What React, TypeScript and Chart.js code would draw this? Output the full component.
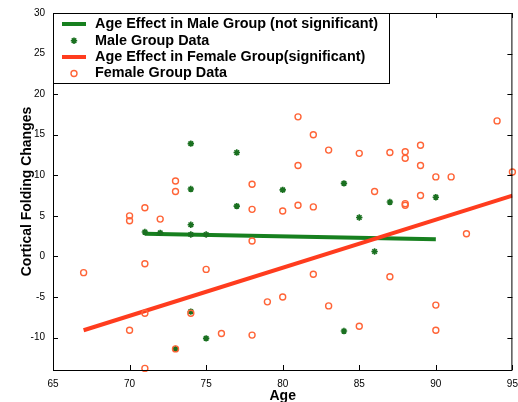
import React, { useEffect, useRef } from 'react';
import { Chart, registerables } from 'chart.js';

Chart.register(...registerables);

// Subject-level data: age (years) and change in cortical folding
const maleAge = [71, 72, 74, 75, 74, 74, 74, 77, 77, 80, 84, 85, 87, 90, 86, 74, 73, 75, 84];
const maleChange = [3.0, 2.9, 2.7, 2.7, 3.9, 8.3, 13.9, 12.8, 6.2, 8.2, 9.0, 4.8, 6.7, 7.3, 0.6, -6.8, -11.4, -10.1, -9.2];

const femaleAge = [
  67, 70, 70, 70, 71, 71, 71, 71, 72, 73, 73, 73, 74, 75, 76, 78, 78, 78, 78, 79, 80, 80, 81, 81, 81,
  82, 82, 82, 83, 83, 85, 85, 86, 87, 87, 88, 88, 88, 88, 89, 89, 89, 90, 90, 90, 91, 92, 94, 95,
];
const femaleChange = [
  -2.0, 5.0, 4.4, -9.1, 6.0, -0.9, -7.0, -13.8, 4.6, 9.3, 8.0, -11.4, -7.0, -1.6, -9.5, 8.9, 5.8, 1.9, -9.7, -5.6, 5.6, -5.0, 17.2, 11.2, 6.3,
  15.0, 6.1, -2.2, 13.1, -6.1, 12.7, -8.6, 8.0, 12.8, -2.5, 12.9, 12.1, 6.5, 6.3, 13.7, 11.2, 7.5, 9.8, -6.0, -9.1, 9.8, 2.8, 16.7, 10.4,
];

// Fitted regression lines (end points)
const maleFitAge = [71, 90];
const maleFitChange = [2.8, 2.1];
const femaleFitAge = [67, 95];
const femaleFitChange = [-9.1, 7.5];

const legendLabels = [
  'Age Effect in Male Group (not significant)',
  'Male Group Data',
  'Age Effect in Female Group(significant)',
  'Female Group Data',
];

const xTitle = 'Age';
const yTitle = 'Cortical Folding Changes';

const GREEN = '#17801f';
const STAR_GREEN = '#1a7020';
const RED = '#ff3c1e';
const ORANGE = '#ff6437';
const FONT = "'Liberation Sans', Arial, Helvetica, sans-serif";

const toPoints = (xs: number[], ys: number[]) => xs.map((x, i) => ({ x, y: ys[i] }));

// Inward tick marks on all four sides, the axes box and the legend
const boxTicksPlugin = {
  id: 'boxTicks',
  afterDatasetsDraw(chart: any) {
    const { ctx, chartArea: a, scales } = chart;
    const len = 5;
    ctx.save();
    ctx.strokeStyle = '#000';
    ctx.lineWidth = 1;
    ctx.beginPath();
    for (const t of scales.x.ticks) {
      const px = Math.round(scales.x.getPixelForValue(t.value)) + 0.5;
      ctx.moveTo(px, a.bottom);
      ctx.lineTo(px, a.bottom - len);
      ctx.moveTo(px, a.top);
      ctx.lineTo(px, a.top + len);
    }
    for (const t of scales.y.ticks) {
      const py = Math.round(scales.y.getPixelForValue(t.value)) + 0.5;
      ctx.moveTo(a.left, py);
      ctx.lineTo(a.left + len, py);
      ctx.moveTo(a.right, py);
      ctx.lineTo(a.right - len, py);
    }
    ctx.stroke();
    ctx.strokeRect(a.left + 0.5, a.top + 0.5, a.right - a.left - 1, a.bottom - a.top);
    ctx.restore();
  },
  afterDraw(chart: any) {
    const { ctx, chartArea: a } = chart;
    const left = a.left + 0.5;
    const top = a.top + 0.5;
    const w = 336;
    const h = 70;
    ctx.save();
    ctx.fillStyle = '#fff';
    ctx.fillRect(left, top, w, h);
    ctx.strokeStyle = '#000';
    ctx.lineWidth = 1;
    ctx.strokeRect(left, top, w, h);

    const rows = [24, 40.7, 57, 73.5];
    const sx0 = a.left + 9;
    const sx1 = a.left + 33;
    const mx = (sx0 + sx1) / 2;

    // male fit line sample
    ctx.strokeStyle = GREEN;
    ctx.lineWidth = 4;
    ctx.beginPath();
    ctx.moveTo(sx0, rows[0]);
    ctx.lineTo(sx1, rows[0]);
    ctx.stroke();

    // male data star sample
    ctx.strokeStyle = STAR_GREEN;
    ctx.lineWidth = 1.6;
    const r = 3.2;
    ctx.beginPath();
    ctx.moveTo(mx - r, rows[1]);
    ctx.lineTo(mx + r, rows[1]);
    ctx.moveTo(mx, rows[1] - r);
    ctx.lineTo(mx, rows[1] + r);
    const d = r * Math.SQRT1_2;
    ctx.moveTo(mx - d, rows[1] - d);
    ctx.lineTo(mx + d, rows[1] + d);
    ctx.moveTo(mx - d, rows[1] + d);
    ctx.lineTo(mx + d, rows[1] - d);
    ctx.stroke();

    // female fit line sample
    ctx.strokeStyle = RED;
    ctx.lineWidth = 4;
    ctx.beginPath();
    ctx.moveTo(sx0, rows[2]);
    ctx.lineTo(sx1, rows[2]);
    ctx.stroke();

    // female data circle sample
    ctx.strokeStyle = ORANGE;
    ctx.lineWidth = 1.4;
    ctx.beginPath();
    ctx.arc(mx, rows[3], 3, 0, Math.PI * 2);
    ctx.stroke();

    ctx.fillStyle = '#000';
    ctx.font = `bold 14.4px ${FONT}`;
    ctx.textBaseline = 'middle';
    ctx.textAlign = 'left';
    legendLabels.forEach((label, i) => {
      ctx.fillText(label, a.left + 42, rows[i]);
    });
    ctx.restore();
  },
};

export default function App() {
  const canvasRef = useRef<HTMLCanvasElement | null>(null);

  useEffect(() => {
    const canvas = canvasRef.current;
    if (!canvas) return;
    const chart = new Chart(canvas, {
      type: 'scatter',
      data: {
        datasets: [
          {
            label: legendLabels[3],
            data: toPoints(femaleAge, femaleChange),
            pointStyle: 'circle',
            pointRadius: 3,
            pointBorderWidth: 1.4,
            borderColor: ORANGE,
            backgroundColor: 'rgba(0,0,0,0)',
            clip: false,
            order: 0,
          },
          {
            label: legendLabels[2],
            data: toPoints(femaleFitAge, femaleFitChange),
            showLine: true,
            borderColor: RED,
            borderWidth: 4,
            pointRadius: 0,
            order: 1,
          },
          {
            label: legendLabels[1],
            data: toPoints(maleAge, maleChange),
            pointStyle: 'star',
            pointRadius: 3.2,
            pointBorderWidth: 1.6,
            borderColor: STAR_GREEN,
            backgroundColor: STAR_GREEN,
            clip: false,
            order: 2,
          },
          {
            label: legendLabels[0],
            data: toPoints(maleFitAge, maleFitChange),
            showLine: true,
            borderColor: GREEN,
            borderWidth: 4,
            pointRadius: 0,
            order: 3,
          },
        ],
      },
      options: {
        responsive: false,
        animation: false,
        layout: { padding: { top: 13, right: 5, left: 0, bottom: 0 } },
        plugins: {
          legend: { display: false },
          tooltip: { enabled: false },
        },
        scales: {
          x: {
            type: 'linear',
            min: 65,
            max: 95,
            ticks: {
              stepSize: 5,
              padding: 8,
              color: '#000',
              font: { family: FONT, size: 10 },
            },
            grid: { display: false, drawTicks: false },
            border: { display: false },
            title: {
              display: true,
              text: xTitle,
              color: '#000',
              font: { family: FONT, size: 14, weight: 'bold' },
              padding: { top: 0, bottom: -2.5 },
            },
            afterFit(scale: any) {
              scale.height = 32;
              scale.paddingLeft = 0;
              scale.paddingRight = 0;
            },
          },
          y: {
            type: 'linear',
            min: -14,
            max: 30,
            ticks: {
              stepSize: 5,
              padding: 8,
              color: '#000',
              font: { family: FONT, size: 10 },
            },
            afterBuildTicks(scale: any) {
              scale.ticks = scale.ticks.filter((t: any) => t.value % 5 === 0);
            },
            grid: { display: false, drawTicks: false },
            border: { display: false },
            title: {
              display: true,
              text: yTitle,
              color: '#000',
              font: { family: FONT, size: 14, weight: 'bold' },
              padding: { top: 18.5, bottom: 0 },
            },
            afterFit(scale: any) {
              scale.width = 53;
              scale.paddingTop = 0;
              scale.paddingBottom = 0;
            },
          },
        },
      },
      plugins: [boxTicksPlugin],
    });
    return () => chart.destroy();
  }, []);

  return (
    <div style={{ position: 'absolute', left: 0, top: 0, width: 518, height: 402, background: '#fff' }}>
      <canvas ref={canvasRef} width={518} height={402} style={{ display: 'block' }} />
    </div>
  );
}
